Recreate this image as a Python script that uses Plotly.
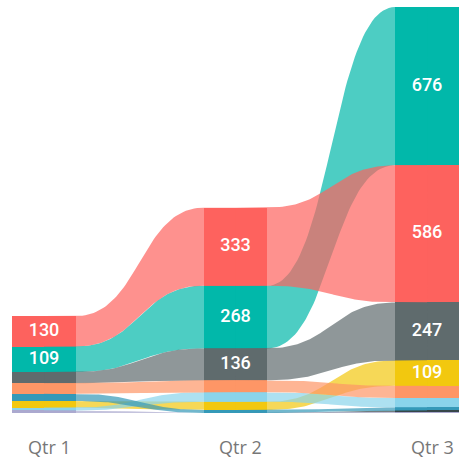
import numpy as np
import plotly.graph_objects as go

# ---- data ----
quarters = ["Qtr 1", "Qtr 2", "Qtr 3"]

teal = [109, 268, 676]
dark = [0, 0, 7]
red = [130, 333, 586]
yellow = [28, 35, 109]
grey = [48, 136, 247]
light_blue = [12, 41, 40]
orange = [45, 51, 52]
lavender = [11, 0, 4]
blue = [31, 13, 13]

series_names = ["Teal", "Dark", "Red", "Yellow", "Grey", "Light blue", "Orange", "Lavender", "Blue"]
series_values = [teal, dark, red, yellow, grey, light_blue, orange, lavender, blue]
series_colors = ["#01B8AA", "#374649", "#FD625E", "#F2C80F", "#5F6B6D",
                 "#8AD4EB", "#FE9666", "#ABA9CF", "#3599B8"]

label_min = 100
col_width = 0.334
ribbon_alpha = 0.7


def rgba(hex_color, a):
    h = hex_color.lstrip("#")
    r, g, b = int(h[0:2], 16), int(h[2:4], 16), int(h[4:6], 16)
    return f"rgba({r},{g},{b},{a})"


n_cols = len(quarters)
n_ser = len(series_values)

# stacking per column: largest on top
bottoms = np.zeros((n_ser, n_cols))
tops = np.zeros((n_ser, n_cols))
for c in range(n_cols):
    vals = [series_values[s][c] for s in range(n_ser)]
    order = sorted(range(n_ser), key=lambda s: vals[s])  # smallest first (bottom)
    acc = 0.0
    for s in order:
        bottoms[s, c] = acc
        acc += vals[s]
        tops[s, c] = acc

fig = go.Figure()

# ribbons (cubic bezier S-curves), extended under the columns to avoid seams
t = np.linspace(0, 1, 60)


def bezier(p0, p1, p2, p3):
    return ((1 - t) ** 3) * p0 + 3 * ((1 - t) ** 2) * t * p1 + 3 * (1 - t) * t ** 2 * p2 + t ** 3 * p3


for s in range(n_ser):
    for c in range(n_cols - 1):
        if max(tops[s, c] - bottoms[s, c], tops[s, c + 1] - bottoms[s, c + 1]) <= 0:
            continue
        xa = c + col_width / 2
        xb = c + 1 - col_width / 2
        xm = (xa + xb) / 2
        xs = np.concatenate([[c], bezier(xa, xm, xm, xb), [c + 1]])
        top_y = np.concatenate([[tops[s, c]],
                                bezier(tops[s, c], tops[s, c], tops[s, c + 1], tops[s, c + 1]),
                                [tops[s, c + 1]]])
        bot_y = np.concatenate([[bottoms[s, c]],
                                bezier(bottoms[s, c], bottoms[s, c], bottoms[s, c + 1], bottoms[s, c + 1]),
                                [bottoms[s, c + 1]]])
        px = np.concatenate([xs, xs[::-1]])
        py = np.concatenate([top_y, bot_y[::-1]])
        fig.add_trace(go.Scatter(
            x=px, y=py, mode="lines", fill="toself",
            fillcolor=rgba(series_colors[s], ribbon_alpha),
            line=dict(width=0), hoverinfo="skip", showlegend=False,
        ))

# columns
for s in range(n_ser):
    fig.add_trace(go.Bar(
        x=list(range(n_cols)), y=series_values[s], base=list(bottoms[s]),
        width=col_width, marker=dict(color=series_colors[s], line=dict(width=0)),
        name=series_names[s], hoverinfo="skip", showlegend=False,
    ))

# data labels
lx, ly, lt = [], [], []
for s in range(n_ser):
    for c in range(n_cols):
        v = series_values[s][c]
        if v >= label_min:
            lx.append(c)
            ly.append((bottoms[s, c] + tops[s, c]) / 2)
            lt.append(str(v))
fig.add_trace(go.Scatter(
    x=lx, y=ly, text=lt, mode="text",
    textfont=dict(family="Roboto, DejaVu Sans", size=18, color="white", weight=500),
    hoverinfo="skip", showlegend=False,
))

annotations = []
for i, q in enumerate(quarters):
    annotations.append(dict(
        x=i, xref="x", y=0, yref="paper", yshift=-34, xshift=5,
        text=q, showarrow=False, yanchor="middle", xanchor="center",
        font=dict(family="Open Sans, Noto Sans", size=18, color="#777777"),
    ))

fig.update_layout(
    width=459, height=464,
    margin=dict(l=0, r=0, t=0, b=51),
    paper_bgcolor="white", plot_bgcolor="white",
    barmode="overlay", bargap=0,
    annotations=annotations,
    xaxis=dict(range=[-0.2298, 2.167], visible=False, fixedrange=True),
    yaxis=dict(range=[0, 1764], visible=False, fixedrange=True),
)

fig.write_html("out.html", config={"displayModeBar": False},
               post_script="document.body.style.margin='0px';document.body.style.overflow='hidden';")
